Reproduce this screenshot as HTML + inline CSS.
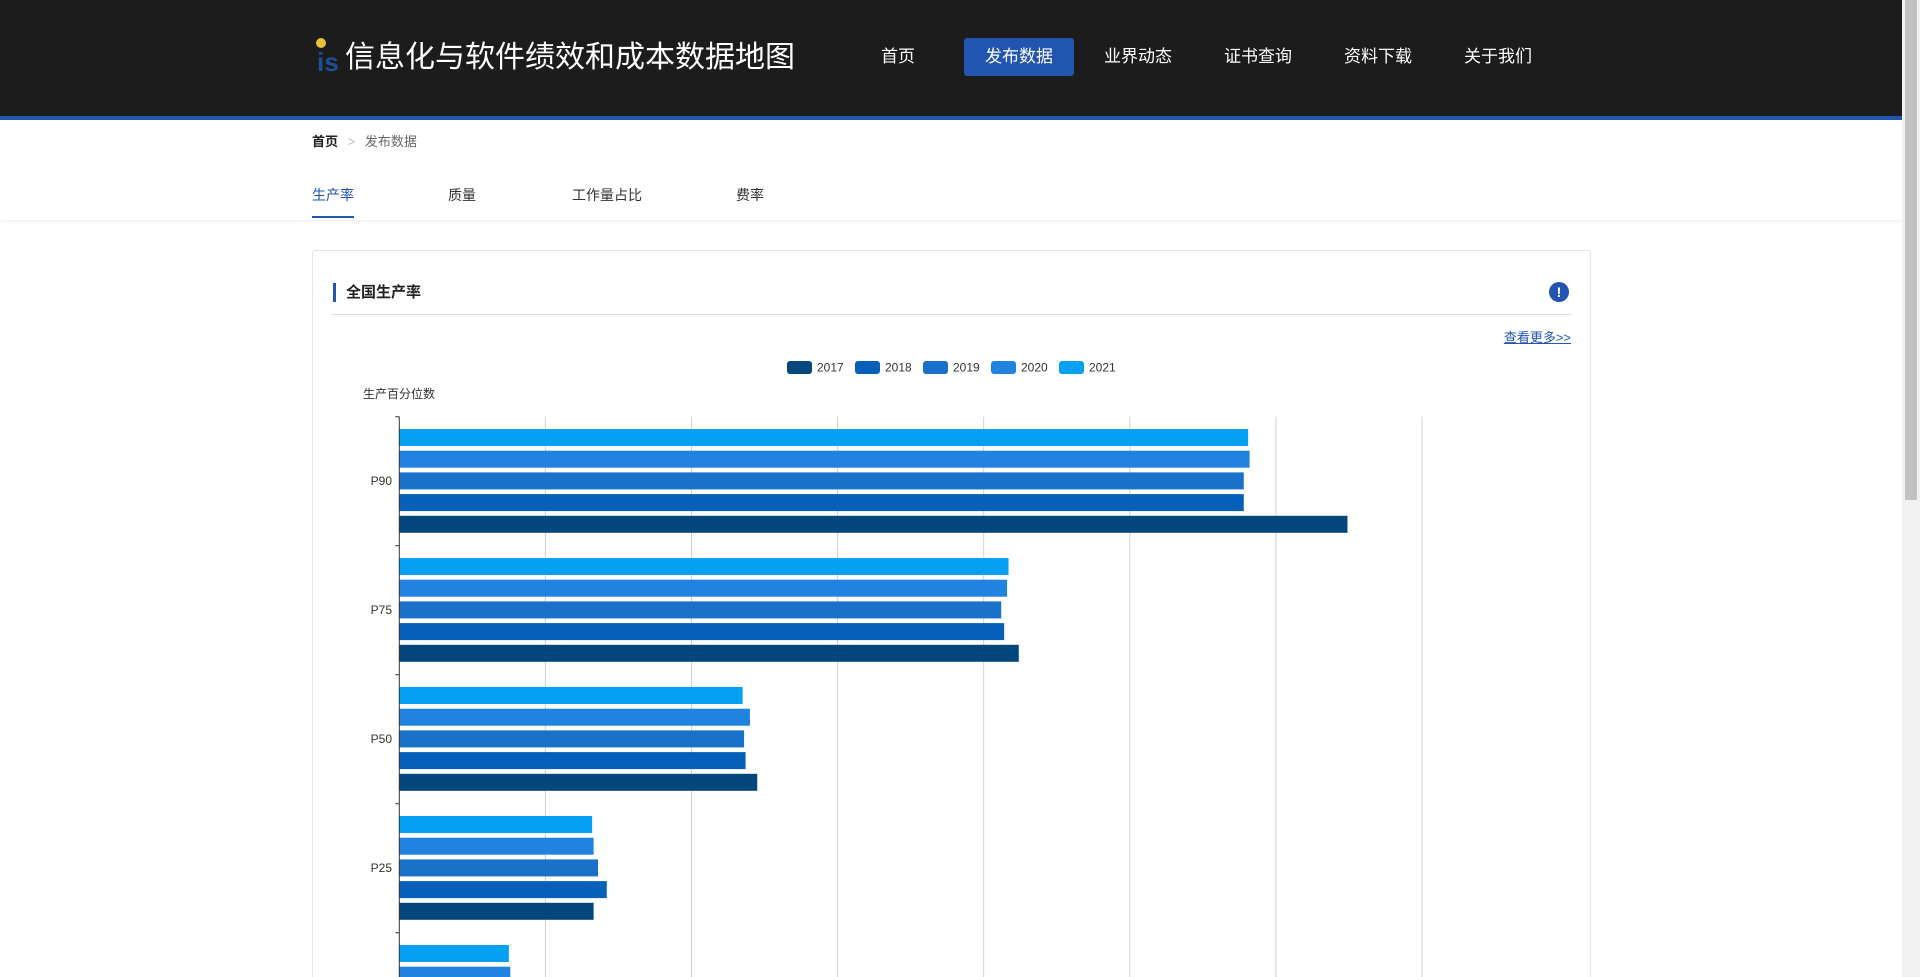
<!DOCTYPE html>
<html><head><meta charset="utf-8">
<style>
*{margin:0;padding:0;box-sizing:border-box}
html,body{width:1920px;height:977px;max-height:977px;overflow:hidden;background:#fff;font-family:"Liberation Sans","Noto Sans CJK SC",sans-serif;position:relative}
.abs{position:absolute}
#header{left:0;top:0;width:1902px;height:116px;background:#1c1c1c}
#header-line{left:0;top:116px;width:1902px;height:4px;background:#2255b0}
.nav{top:38px;height:38px;width:110px;line-height:38px;text-align:center;color:#fff;font-size:17px;border-radius:3px}
#sub{left:0;top:120px;width:1902px;height:100px;background:#fff;box-shadow:0 2px 4px rgba(0,0,0,0.06)}
.tab{top:185px;font-size:14px;color:#333}
#card{left:312px;top:250px;width:1279px;height:727px;background:#fff;border:1px solid #e3e3e3;border-bottom:none;border-radius:3px 3px 0 0}
#scroll{left:1902px;top:0;width:18px;height:977px;background:#f1f1f1}
#thumb{left:1905px;top:0;width:12px;height:500px;background:#c1c1c1}
</style></head><body>
<div id="header" class="abs"></div>
<div id="header-line" class="abs"></div>
<div class="abs" style="left:315px;top:37px;width:28px;height:38px">
 <div class="abs" style="left:1px;top:1px;width:10px;height:10px;border-radius:50%;background:#e5c23a"></div>
 <div class="abs" style="left:2px;top:14px;width:25px;height:22px;color:#1d4f94;font-weight:bold;font-size:26px;line-height:22px;font-family:'Liberation Sans',sans-serif">is</div>
</div>
<div class="abs" style="left:345px;top:38px;color:#fff;font-size:30px;line-height:40px;white-space:nowrap">信息化与软件绩效和成本数据地图</div>
<div class="abs nav" style="left:843px">首页</div>
<div class="abs nav" style="left:964px;background:#2255b0">发布数据</div>
<div class="abs nav" style="left:1083px">业界动态</div>
<div class="abs nav" style="left:1203px">证书查询</div>
<div class="abs nav" style="left:1323px">资料下载</div>
<div class="abs nav" style="left:1443px">关于我们</div>

<div id="sub" class="abs"></div>
<div class="abs" style="left:312px;top:133px;font-size:13px;line-height:18px;white-space:nowrap">
 <span style="color:#222;font-weight:bold">首页</span>
 <span style="color:#bbb;margin:0 6px">&gt;</span>
 <span style="color:#666">发布数据</span>
</div>
<div class="abs tab" style="left:312px;color:#2255b0">生产率</div>
<div class="abs" style="left:312px;top:216px;width:42px;height:2px;background:#2255b0"></div>
<div class="abs tab" style="left:448px">质量</div>
<div class="abs tab" style="left:572px">工作量占比</div>
<div class="abs tab" style="left:736px">费率</div>

<div id="card" class="abs"></div>
<div class="abs" style="left:333px;top:283px;width:3px;height:19px;background:#2255b0"></div>
<div class="abs" style="left:346px;top:283px;font-size:15px;font-weight:bold;color:#222;line-height:19px">全国生产率</div>
<div class="abs" style="left:1549px;top:282px;width:20px;height:20px;border-radius:50%;background:#2255b0;color:#fff;font-size:14px;font-weight:bold;text-align:center;line-height:20px">!</div>
<div class="abs" style="left:332px;top:314px;width:1239px;height:1px;background:#dcdcdc"></div>
<div class="abs" style="left:1498px;top:327px;width:73px;text-align:right;font-size:13px;color:#2255b0;text-decoration:underline;white-space:nowrap">查看更多&gt;&gt;</div>

<svg class="abs" id="chart" style="left:0;top:0" width="1902" height="977"></svg>

<div id="scroll" class="abs"></div>
<div id="thumb" class="abs"></div>

<script>
const categories = ["P90","P75","P50","P25","P10"];
const seriesNames = ["2021","2020","2019","2018","2017"];
const v2021 = [5.81,4.17,2.35,1.32,0.75];
const v2020 = [5.82,4.16,2.40,1.33,0.76];
const v2019 = [5.78,4.12,2.36,1.36,0.78];
const v2018 = [5.78,4.14,2.37,1.42,0.80];
const v2017 = [6.49,4.24,2.45,1.33,0.77];
const xTicks = [0,1,2,3,4,5,6,7];
const legendYears = ["2017","2018","2019","2020","2021"];

const NS="http://www.w3.org/2000/svg";
const svg=document.getElementById('chart');
const colors={"2017":"#04477c","2018":"#0560b9","2019":"#1a71c9","2020":"#2183e0","2021":"#05a0f2"};
const X0=399.3, XSTEP=146.1, Y0=416.7, BAND=129, YEND=977;
const xs=v=>X0+v*XSTEP;
const bandTop=i=>Y0+i*BAND;
function mk(tag,attrs){const e=document.createElementNS(NS,tag);for(const k in attrs)e.setAttribute(k,attrs[k]);svg.appendChild(e);return e;}

xTicks.forEach(t=>{ if(t===0) return;
 const g=mk('line',{x1:xs(t),x2:xs(t),y1:Y0,y2:YEND,stroke:'#d0d0d0','stroke-width':1});
 
 
});
const series=[v2021,v2020,v2019,v2018,v2017];
categories.forEach((c,i)=>{
 const top=bandTop(i);
 series.forEach((vals,j)=>{
  const y=top+12.3+j*21.7;
  if(y>=YEND) return;
  const r=mk('rect',{x:X0,y:y,width:xs(vals[i])-X0,height:Math.min(17,YEND-y),fill:colors[seriesNames[j]]});
  
  
 });
 if(top<YEND){
  const tk=mk('line',{x1:X0-4,x2:X0,y1:top,y2:top,stroke:'#333','stroke-width':1});
  
  
 }
 if(top+BAND/2<YEND){
  const lb=mk('text',{x:392,y:top+BAND/2+4,'text-anchor':'end','font-size':12,fill:'#333','font-family':'Liberation Sans, sans-serif'});
  lb.textContent=c;
  
  
 }
});
const ax=mk('line',{x1:X0,x2:X0,y1:Y0,y2:YEND,stroke:'#333','stroke-width':1});


const yt=mk('text',{x:363,y:398,'font-size':12,fill:'#333','font-family':'Liberation Sans, Noto Sans CJK SC, sans-serif'});
yt.textContent='生产百分位数';


legendYears.forEach((y,k)=>{
 const lx=787+k*68;
 const r=mk('rect',{x:lx,y:361,width:25,height:13,rx:3,fill:colors[y]});
 
 
 const t=mk('text',{x:lx+30,y:371.5,'font-size':12,fill:'#333','font-family':'Liberation Sans, sans-serif'});
 t.textContent=y;
 
 
});
</script>
</body></html>
